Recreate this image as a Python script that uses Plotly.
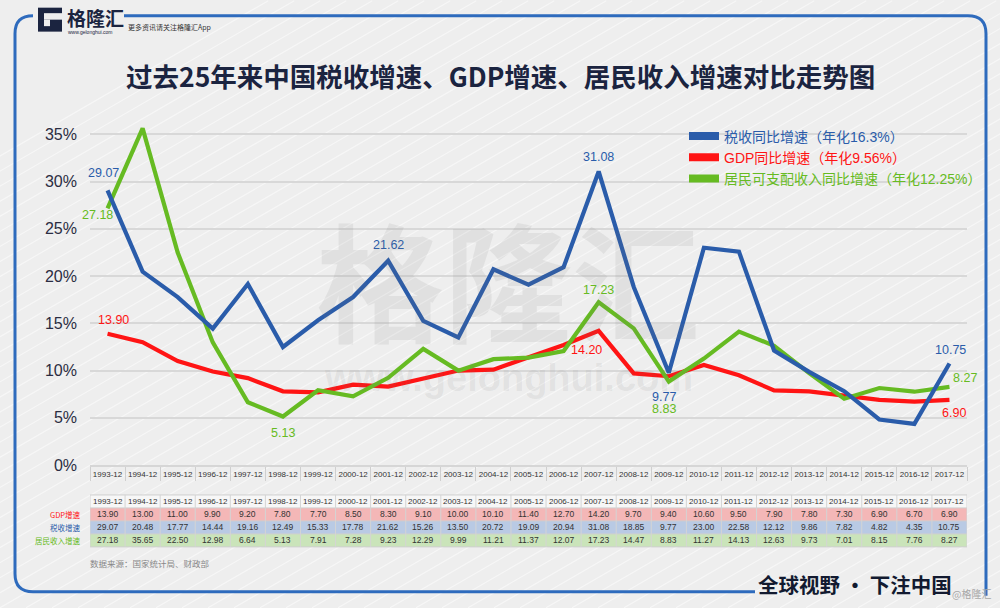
import plotly.graph_objects as go

# ---------------- data ----------------
periods = ["1993-12", "1994-12", "1995-12", "1996-12", "1997-12", "1998-12", "1999-12",
           "2000-12", "2001-12", "2002-12", "2003-12", "2004-12", "2005-12", "2006-12",
           "2007-12", "2008-12", "2009-12", "2010-12", "2011-12", "2012-12", "2013-12",
           "2014-12", "2015-12", "2016-12", "2017-12"]
gdp_growth = [13.90, 13.00, 11.00, 9.90, 9.20, 7.80, 7.70, 8.50, 8.30, 9.10, 10.00, 10.10,
              11.40, 12.70, 14.20, 9.70, 9.40, 10.60, 9.50, 7.90, 7.80, 7.30, 6.90, 6.70, 6.90]
tax_growth = [29.07, 20.48, 17.77, 14.44, 19.16, 12.49, 15.33, 17.78, 21.62, 15.26, 13.50,
              20.72, 19.09, 20.94, 31.08, 18.85, 9.77, 23.00, 22.58, 12.12, 9.86, 7.82,
              4.82, 4.35, 10.75]
income_growth = [27.18, 35.65, 22.50, 12.98, 6.64, 5.13, 7.91, 7.28, 9.23, 12.29, 9.99,
                 11.21, 11.37, 12.07, 17.23, 14.47, 8.83, 11.27, 14.13, 12.63, 9.73, 7.01,
                 8.15, 7.76, 8.27]
y_ticks = [0, 5, 10, 15, 20, 25, 30, 35]
y_tick_labels = ["0%", "5%", "10%", "15%", "20%", "25%", "30%", "35%"]

legend_tax = "税收同比增速（年化16.3%）"
legend_gdp = "GDP同比增速（年化9.56%）"
legend_inc = "居民可支配收入同比增速（年化12.25%）"
row_labels = ["GDP增速", "税收增速", "居民收入增速"]

# ---------------- style ----------------
W, H = 1000, 608
L, R, T, B = 90, 33, 124.5, 143
PW, PH = W - L - R, H - T - B
BLUE, RED, GREEN = "#2a5caa", "#ff1414", "#66bb22"
NAVY = "#1b2440"
BG = "#eeeeee"
NUMFONT = "Liberation Sans, Noto Sans CJK SC"
CJK = "Noto Sans CJK SC"


def fx(px):
    return (px - L) / PW


def fy(py):
    return (H - B - py) / PH


fig = go.Figure()

# main lines
fig.add_trace(go.Scatter(x=periods, y=gdp_growth, mode="lines", showlegend=False,
                         line=dict(color=RED, width=4.2)))
fig.add_trace(go.Scatter(x=periods, y=income_growth, mode="lines", showlegend=False,
                         line=dict(color=GREEN, width=4.2)))
fig.add_trace(go.Scatter(x=periods, y=tax_growth, mode="lines", showlegend=False,
                         line=dict(color=BLUE, width=4.2)))

# legend entries
for name, col in [(legend_tax, BLUE), (legend_gdp, RED), (legend_inc, GREEN)]:
    fig.add_trace(go.Scatter(x=[None], y=[None], mode="lines",
                             name=f'<span style="color:{col}">{name}</span>',
                             line=dict(color=col, width=8)))

annotations = []


def lab(series, idx, color, xs, ys):
    annotations.append(dict(x=periods[idx], y=series[idx], xref="x", yref="y",
                            text=f"{series[idx]:.2f}", showarrow=False,
                            xanchor="center", yanchor="middle",
                            xshift=xs, yshift=ys,
                            font=dict(family=NUMFONT, size=12.5, color=color)))


lab(tax_growth, 0, BLUE, -4, 17)
lab(income_growth, 0, GREEN, -10, -7)
lab(gdp_growth, 0, RED, 6, 14)
lab(tax_growth, 8, BLUE, 0, 16)
lab(tax_growth, 14, BLUE, 0, 14)
lab(income_growth, 14, GREEN, 0, 12)
lab(gdp_growth, 14, RED, -12, -19)
lab(tax_growth, 16, BLUE, -5, -24)
lab(income_growth, 16, GREEN, -5, -27)
lab(income_growth, 5, GREEN, 0, -16)
lab(tax_growth, 24, BLUE, 1, 13)
lab(income_growth, 24, GREEN, 16, 9)
lab(gdp_growth, 24, RED, 5, -13)

shapes = []

# ---------------- background streaks ----------------
for k in range(-30, 45):
    x0 = k * 26
    shapes.append(dict(type="line", xref="paper", yref="paper", layer="below",
                       x0=fx(x0), y0=fy(H), x1=fx(x0 + H / 0.58), y1=fy(0),
                       line=dict(color="rgba(255,255,255,0.5)", width=1.2)))

# ---------------- table ----------------
row_tops = [495, 508, 521, 534, 547]
row_fills = ["#f7f7f7", "#f4b7b7", "#b9cae4", "#cae4ba"]
for i, fill in enumerate(row_fills):
    shapes.append(dict(type="rect", xref="paper", yref="paper", x0=0, x1=1,
                       y0=fy(row_tops[i + 1]), y1=fy(row_tops[i]),
                       fillcolor=fill, line=dict(width=0), layer="below"))
for yt in row_tops:
    shapes.append(dict(type="line", xref="paper", yref="paper", x0=0, x1=1,
                       y0=fy(yt), y1=fy(yt), line=dict(color="#cfcfcf", width=1)))
for i in range(len(periods) + 1):
    shapes.append(dict(type="line", xref="x", yref="paper", x0=i - 0.5, x1=i - 0.5,
                       y0=fy(row_tops[-1]), y1=fy(row_tops[0]),
                       line=dict(color="#d4d4d4", width=1)))

row_centers = [(row_tops[i] + row_tops[i + 1]) / 2 for i in range(4)]
for j, p in enumerate(periods):
    annotations.append(dict(x=p, y=fy(row_centers[0]), xref="x", yref="paper", text=p,
                            showarrow=False, xanchor="center", yanchor="middle",
                            font=dict(family=NUMFONT, size=8, color="#333")))
    for r, series in enumerate([gdp_growth, tax_growth, income_growth]):
        annotations.append(dict(x=p, y=fy(row_centers[r + 1]), xref="x", yref="paper",
                                text=f"{series[j]:.2f}", showarrow=False,
                                xanchor="center", yanchor="middle",
                                font=dict(family=NUMFONT, size=8.5, color="#333")))
for r, (txt_, col) in enumerate(zip(row_labels, [RED, BLUE, GREEN])):
    annotations.append(dict(x=fx(83), y=fy(row_centers[r + 1]), xref="paper", yref="paper",
                            text=txt_, showarrow=False, xanchor="right", yanchor="middle",
                            font=dict(family=CJK, size=7.5, color=col)))

# ---------------- decorations ----------------
def path(points):
    out = []
    for cmd, pts in points:
        coords = " ".join(f"{fx(a):.5f},{fy(b):.5f}" for a, b in pts)
        out.append(f"{cmd}{coords}")
    return " ".join(out)


FRAME = "#2e6bbd"
shapes.append(dict(type="path", xref="paper", yref="paper",
                   path=path([("M", [(33, 15)]), ("Q", [(15, 15), (15, 33)]),
                              ("L", [(15, 574)]), ("Q", [(15, 592), (33, 592)]),
                              ("L", [(755, 592)])]),
                   line=dict(color=FRAME, width=3)))
shapes.append(dict(type="path", xref="paper", yref="paper",
                   path=path([("M", [(124, 15)]), ("L", [(968, 15)]),
                              ("Q", [(986, 15), (986, 33)]), ("L", [(986, 596)])]),
                   line=dict(color=FRAME, width=3)))

# logo
shapes.append(dict(type="rect", xref="paper", yref="paper", x0=fx(38), x1=fx(62),
                   y0=fy(31), y1=fy(7), fillcolor=NAVY, line=dict(width=0)))
shapes.append(dict(type="rect", xref="paper", yref="paper", x0=fx(44), x1=fx(62.5),
                   y0=fy(19), y1=fy(12.5), fillcolor=BG, line=dict(width=0)))
shapes.append(dict(type="rect", xref="paper", yref="paper", x0=fx(44), x1=fx(50),
                   y0=fy(25.5), y1=fy(19), fillcolor=BG, line=dict(width=0)))
shapes.append(dict(type="path", xref="paper", yref="paper",
                   path=path([("M", [(50, 25.5)]), ("L", [(56, 25.5), (50, 31)]), ("Z", [])]),
                   fillcolor="#3a8fd8", line=dict(width=0)))


def txt(x, y, text, size, color, family=CJK, xanchor="center"):
    annotations.append(dict(x=fx(x), y=fy(y), xref="paper", yref="paper", text=text,
                            showarrow=False, xanchor=xanchor, yanchor="middle",
                            font=dict(family=family, size=size, color=color)))


txt(65, 17, "<b>格隆汇</b>", 19, NAVY, xanchor="left")
txt(66, 31, "www.gelonghui.com", 5, NAVY, family=NUMFONT, xanchor="left")
txt(126, 26, "更多资讯请关注格隆汇App", 7, "#333", xanchor="left")
# watermark
txt(508, 277, "<b>格隆汇</b>", 128, "rgba(120,120,120,0.11)")
txt(508, 378, "<b>www.gelonghui.com</b>", 38, "rgba(120,120,120,0.11)", family=NUMFONT)
# title
txt(500, 75, "<b>过去25年来中国税收增速、GDP增速、居民收入增速对比走势图</b>", 26.5, NAVY)
# source
txt(88, 563, "数据来源：国家统计局、财政部", 8.5, "#888", xanchor="left")
# slogan
txt(855, 584, "<b>全球视野 · 下注中国</b>", 20.5, "#121a30")
txt(971, 594, "@格隆汇", 10, "#a8a8a8")

fig.update_layout(
    width=W, height=H,
    margin=dict(l=L, r=R, t=T, b=B, pad=0, autoexpand=False),
    paper_bgcolor=BG, plot_bgcolor="rgba(0,0,0,0)",
    showlegend=True,
    legend=dict(x=fx(684), y=fy(120), xanchor="left", yanchor="top",
                bgcolor="rgba(0,0,0,0)", itemwidth=30,
                font=dict(family=NUMFONT, size=14)),
    shapes=shapes, annotations=annotations,
    xaxis=dict(type="category", categoryorder="array", categoryarray=periods,
               showgrid=False, showline=True, linecolor="#d6d6d6", linewidth=2,
               ticks="outside", tickson="boundaries", ticklen=14, tickcolor="#cfcfcf",
               tickwidth=1, tickangle=0,
               tickfont=dict(family=NUMFONT, size=8, color="#333"),
               range=[-0.5, len(periods) - 0.5], fixedrange=True),
    yaxis=dict(range=[0, 36], tickvals=y_ticks, ticktext=y_tick_labels,
               showgrid=True, gridcolor="#d8d8d8", gridwidth=1.6, zeroline=False,
               ticklabelstandoff=12,
               tickfont=dict(family=NUMFONT, size=16, color="#2b2d42"), fixedrange=True),
)

fig.write_html("out.html", config={"displayModeBar": False},
               post_script="document.body.style.margin='0';"
                           "document.body.style.background='%s';" % BG)
